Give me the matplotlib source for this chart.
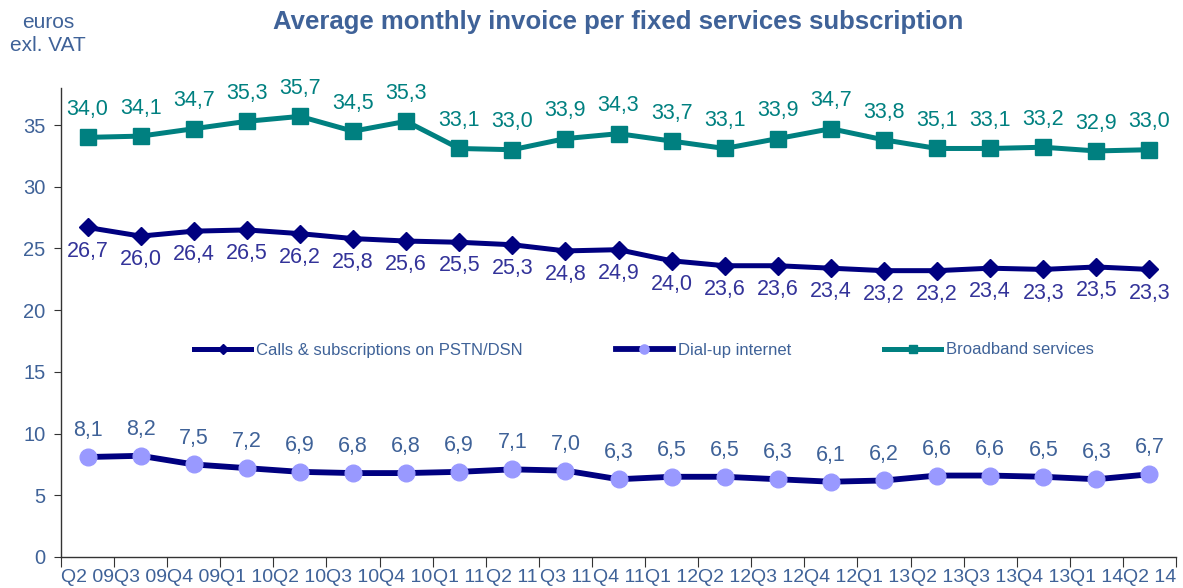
import matplotlib
matplotlib.use("Agg")
import matplotlib.pyplot as plt
import numpy as np

plt.rcParams['font.family'] = ['Liberation Sans', 'DejaVu Sans']

quarters = ["Q2 09", "Q3 09", "Q4 09", "Q1 10", "Q2 10", "Q3 10", "Q4 10",
            "Q1 11", "Q2 11", "Q3 11", "Q4 11", "Q1 12", "Q2 12", "Q3 12",
            "Q4 12", "Q1 13", "Q2 13", "Q3 13", "Q4 13", "Q1 14", "Q2 14"]

calls = [26.7, 26.0, 26.4, 26.5, 26.2, 25.8, 25.6, 25.5, 25.3, 24.8, 24.9,
         24.0, 23.6, 23.6, 23.4, 23.2, 23.2, 23.4, 23.3, 23.5, 23.3]
dialup = [8.1, 8.2, 7.5, 7.2, 6.9, 6.8, 6.8, 6.9, 7.1, 7.0, 6.3,
          6.5, 6.5, 6.3, 6.1, 6.2, 6.6, 6.6, 6.5, 6.3, 6.7]
broadband = [34.0, 34.1, 34.7, 35.3, 35.7, 34.5, 35.3, 33.1, 33.0, 33.9, 34.3,
             33.7, 33.1, 33.9, 34.7, 33.8, 33.1, 33.1, 33.2, 32.9, 33.0]
# data labels as printed in the original (one label reads 35,1 at a 33,1 point)
broadband_labels = ["34,0", "34,1", "34,7", "35,3", "35,7", "34,5", "35,3", "33,1", "33,0",
                    "33,9", "34,3", "33,7", "33,1", "33,9", "34,7", "33,8", "35,1", "33,1",
                    "33,2", "32,9", "33,0"]
yticks = [0, 5, 10, 15, 20, 25, 30, 35]

TEAL = '#008080'
NAVY = '#000080'
LILAC = '#9999FF'
TXT = '#3F6298'
CALLTXT = '#333399'

fig = plt.figure(figsize=(11.83, 5.88), dpi=100)
ax = fig.add_axes([61/1183, 1-557/588, (1176-61)/1183, (557-88)/588])

x = np.arange(len(quarters))
l1, = ax.plot(x, calls, color=NAVY, lw=3.6, marker='D', ms=9, mfc=NAVY, mec=NAVY,
              label='Calls & subscriptions on PSTN/DSN', zorder=3)
l2, = ax.plot(x, dialup, color=NAVY, lw=4.2, marker='o', ms=12, mfc=LILAC, mec=LILAC,
              label='Dial-up internet', zorder=3)
l3, = ax.plot(x, broadband, color=TEAL, lw=3.6, marker='s', ms=11, mfc=TEAL, mec=TEAL,
              label='Broadband services', zorder=3)

def fmt(v):
    return f"{v:.1f}".replace('.', ',')

for xi, v, lab in zip(x, broadband, broadband_labels):
    ax.annotate(lab, (xi, v), xytext=(0, 20), textcoords='offset points',
                ha='center', va='center', fontsize=15.5, color=TEAL)
for xi, v in zip(x, calls):
    ax.annotate(fmt(v), (xi, v), xytext=(0, -17), textcoords='offset points',
                ha='center', va='center', fontsize=15.5, color=CALLTXT)
for xi, v in zip(x, dialup):
    ax.annotate(fmt(v), (xi, v), xytext=(0, 19), textcoords='offset points',
                ha='center', va='center', fontsize=15.5, color=TXT)

ax.set_xlim(-0.5, len(quarters) - 0.5)
ax.set_ylim(0, 38)
ax.set_yticks(yticks)
ax.set_yticklabels([str(t) for t in yticks], fontsize=14.5, color=TXT)
ax.set_xticks(np.arange(-0.5, len(quarters), 1.0))
ax.set_xticklabels([])
ax.set_xticks(x, minor=True)
ax.set_xticklabels(quarters, minor=True, fontsize=14, color=TXT)
ax.tick_params(axis='x', which='major', direction='out', length=7, color='#333333')
ax.tick_params(axis='x', which='minor', length=0, pad=9)
ax.tick_params(axis='y', direction='out', length=5, color='#333333', pad=6)
for s in ['top', 'right']:
    ax.spines[s].set_visible(False)
for s in ['left', 'bottom']:
    ax.spines[s].set_color('#333333')
    ax.spines[s].set_linewidth(1.0)

fig.text(618/1183, 1-22/588, 'Average monthly invoice per fixed services subscription',
         ha='center', va='center', fontsize=18.5, fontweight='bold', color=TXT)
fig.text(48/1183, 1-34/588, 'euros\nexl. VAT', ha='center', va='center',
         fontsize=15, color=TXT, linespacing=1.25)

leg = fig.legend(handles=[l1, l2, l3], loc='center', bbox_to_anchor=(644/1183, 1-350/588),
                 ncol=3, frameon=False, fontsize=12, handlelength=3.4, handletextpad=0.3,
                 columnspacing=5.6, markerscale=0.55)
for t in leg.get_texts():
    t.set_color(TXT)

fig.savefig('out.png', dpi=100)
